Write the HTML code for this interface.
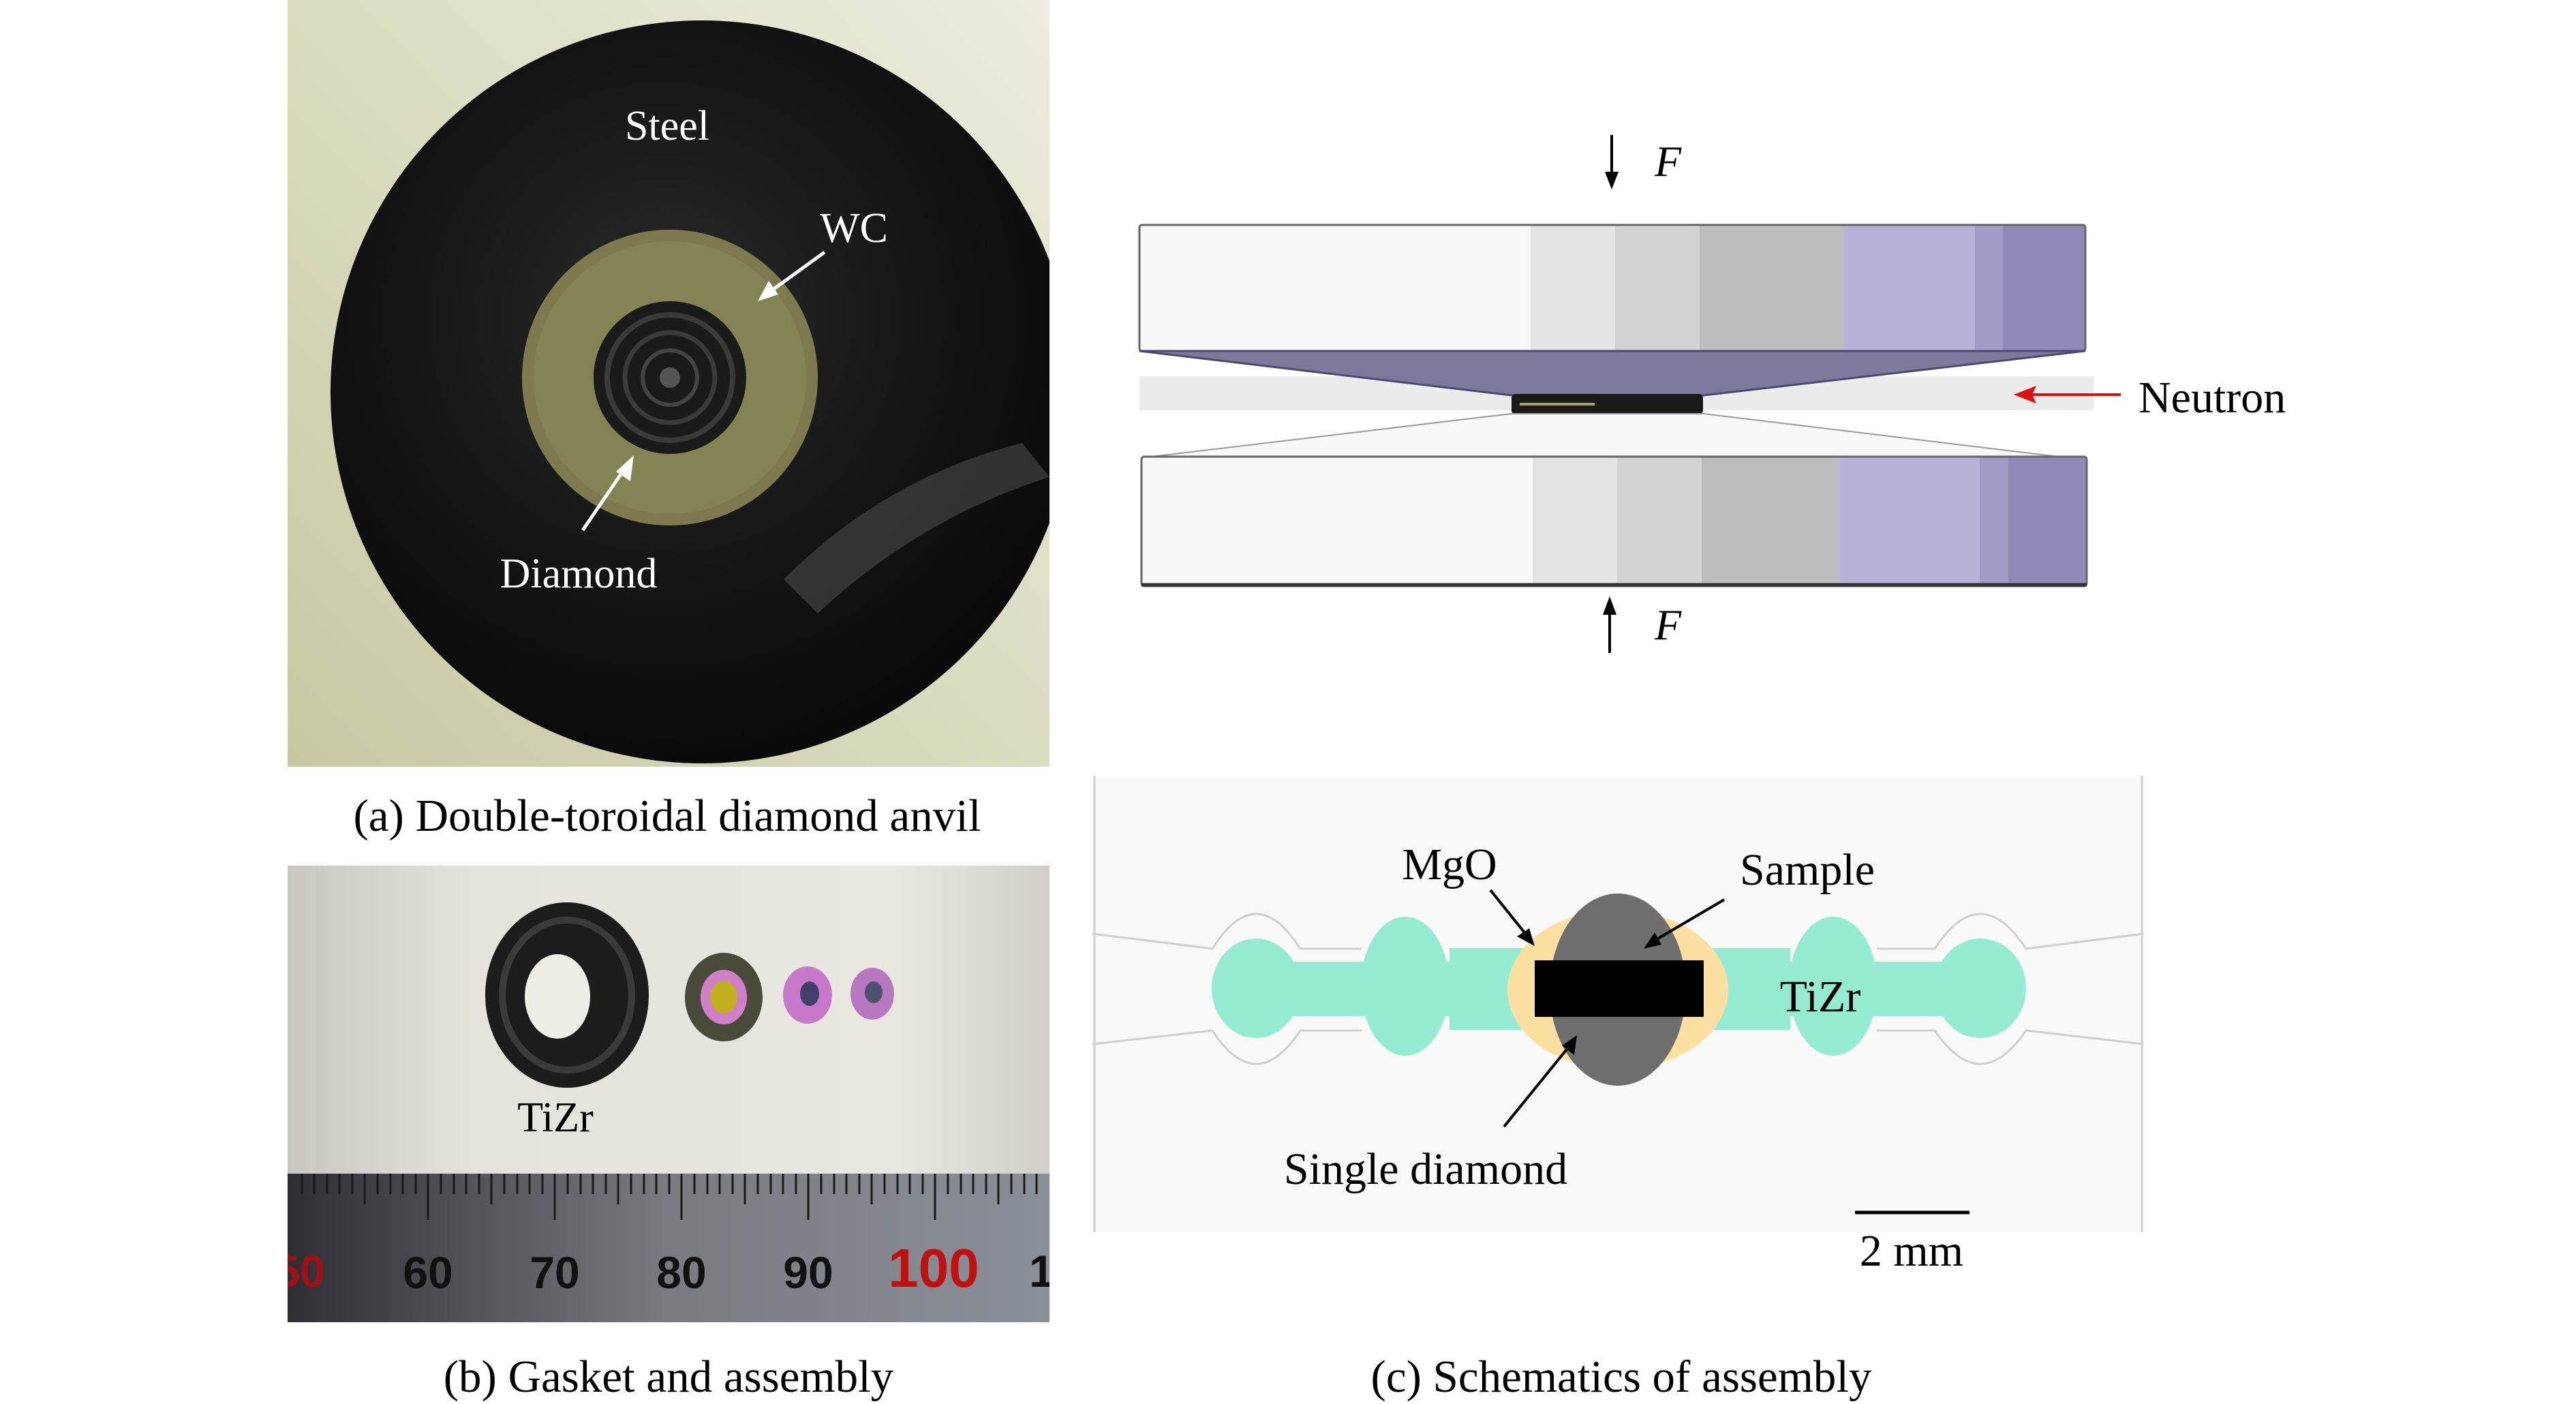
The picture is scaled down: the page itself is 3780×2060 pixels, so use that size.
<!DOCTYPE html>
<html><head><meta charset="utf-8"><style>
html,body{margin:0;padding:0;background:#fff}
svg{display:block}
text{font-family:"Liberation Serif",serif}
</style></head><body>
<svg width="3780" height="2060" viewBox="0 0 3780 2060" xmlns="http://www.w3.org/2000/svg">
<defs>
<linearGradient id="bgA" x1="0" y1="1" x2="1" y2="0">
<stop offset="0" stop-color="#c8c8a4"/><stop offset="0.5" stop-color="#dcdcc0"/><stop offset="1" stop-color="#ecece0"/>
</linearGradient>
<radialGradient id="disk" cx="0.45" cy="0.4" r="0.6">
<stop offset="0" stop-color="#2a2a2a"/><stop offset="0.6" stop-color="#141414"/><stop offset="1" stop-color="#0a0a0a"/>
</radialGradient>
<linearGradient id="bgB" x1="0" y1="0" x2="1" y2="0">
<stop offset="0" stop-color="#c8c8c0"/><stop offset="0.25" stop-color="#e4e4dc"/><stop offset="0.8" stop-color="#e8e8e0"/><stop offset="1" stop-color="#d0d0c8"/>
</linearGradient>
<linearGradient id="ruler" x1="0" y1="0" x2="1" y2="0">
<stop offset="0" stop-color="#2e2e34"/><stop offset="0.5" stop-color="#7a7a80"/><stop offset="1" stop-color="#8a9098"/>
</linearGradient>
<clipPath id="clipA"><rect x="422" y="0" width="1118" height="1125"/></clipPath>
<clipPath id="clipB"><rect x="422" y="1270" width="1118" height="670"/></clipPath>
</defs>

<!-- Panel (a) photo -->
<g clip-path="url(#clipA)">
<rect x="422" y="0" width="1118" height="1125" fill="url(#bgA)"/>
<circle cx="1030" cy="575" r="545" fill="url(#disk)"/>
<path d="M1150 850 Q1300 700 1500 650 L1540 700 Q1350 760 1200 900 Z" fill="#555" opacity="0.5"/>
<circle cx="983" cy="554" r="217" fill="#7c7a4e"/>
<circle cx="983" cy="554" r="200" fill="#8a8858" opacity="0.6"/>
<circle cx="983" cy="554" r="112" fill="#1a1a1a"/>
<circle cx="983" cy="554" r="92" fill="none" stroke="#3a3a38" stroke-width="8"/>
<circle cx="983" cy="554" r="66" fill="none" stroke="#3a3a38" stroke-width="7"/>
<circle cx="983" cy="554" r="40" fill="none" stroke="#444" stroke-width="6"/>
<circle cx="983" cy="554" r="15" fill="#555"/>
</g>
<text x="979" y="205" font-size="62" fill="#fff" text-anchor="middle">Steel</text>
<text x="1253" y="355" font-size="62" fill="#fff" text-anchor="middle">WC</text>
<text x="849" y="862" font-size="62" fill="#fff" text-anchor="middle">Diamond</text>
<g stroke="#fff" stroke-width="5" fill="#fff">
<line x1="1210" y1="370" x2="1130" y2="428"/>
<polygon points="1112,442 1128,412 1142,432" stroke="none"/>
<line x1="855" y1="778" x2="915" y2="690"/>
<polygon points="930,668 925,706 904,692" stroke="none"/>
</g>
<text x="979" y="1219" font-size="67" fill="#000" text-anchor="middle">(a) Double-toroidal diamond anvil</text>

<!-- Panel (b) photo -->
<g clip-path="url(#clipB)">
<rect x="422" y="1270" width="1118" height="670" fill="url(#bgB)"/>
<ellipse cx="832" cy="1460" rx="120" ry="136" fill="#1c1c1c"/>
<ellipse cx="832" cy="1460" rx="95" ry="110" fill="none" stroke="#3a3a3a" stroke-width="10"/>
<ellipse cx="818" cy="1462" rx="48" ry="62" fill="#eeeee6"/>
<ellipse cx="1062" cy="1463" rx="57" ry="65" fill="#4a4a3a"/>
<ellipse cx="1062" cy="1463" rx="34" ry="40" fill="#d080c8"/>
<ellipse cx="1062" cy="1463" rx="20" ry="24" fill="#c0b020"/>
<ellipse cx="1185" cy="1460" rx="36" ry="42" fill="#c878c8"/>
<ellipse cx="1188" cy="1458" rx="14" ry="18" fill="#40406a"/>
<ellipse cx="1280" cy="1458" rx="32" ry="38" fill="#b878c0"/>
<ellipse cx="1282" cy="1456" rx="13" ry="16" fill="#505070"/>
<rect x="422" y="1722" width="1118" height="218" fill="url(#ruler)"/>
<g font-size="66" text-anchor="middle" font-weight="bold">
<text x="440" y="1888" fill="#a01010" style="font-family:'Liberation Sans',sans-serif">50</text>
<text x="628" y="1890" fill="#111" style="font-family:'Liberation Sans',sans-serif">60</text>
<text x="814" y="1890" fill="#111" style="font-family:'Liberation Sans',sans-serif">70</text>
<text x="1000" y="1890" fill="#111" style="font-family:'Liberation Sans',sans-serif">80</text>
<text x="1186" y="1890" fill="#111" style="font-family:'Liberation Sans',sans-serif">90</text>
<text x="1370" y="1888" fill="#c01010" font-size="80" style="font-family:'Liberation Sans',sans-serif">100</text>
<text x="1545" y="1888" fill="#111" style="font-family:'Liberation Sans',sans-serif">11</text>
</g>
<g stroke="#1a1a1a" stroke-width="3">
<path d="M443 1722v30M461 1722v30M480 1722v30M498 1722v30M517 1722v30M535 1722v45M554 1722v30M573 1722v30M591 1722v30M610 1722v30M628 1722v68M647 1722v30M666 1722v30M684 1722v30M703 1722v30M721 1722v45M740 1722v30M759 1722v30M777 1722v30M796 1722v30M814 1722v68M833 1722v30M852 1722v30M870 1722v30M889 1722v30M907 1722v45M926 1722v30M945 1722v30M963 1722v30M982 1722v30M1000 1722v68M1019 1722v30M1038 1722v30M1056 1722v30M1075 1722v30M1093 1722v45M1112 1722v30M1131 1722v30M1149 1722v30M1168 1722v30M1186 1722v68M1205 1722v30M1224 1722v30M1242 1722v30M1261 1722v30M1279 1722v45M1298 1722v30M1317 1722v30M1335 1722v30M1354 1722v30M1372 1722v68M1391 1722v30M1410 1722v30M1428 1722v30M1447 1722v30M1465 1722v45M1484 1722v30M1503 1722v30M1521 1722v30"/>
</g>
</g>
<text x="815" y="1660" font-size="62" fill="#000" text-anchor="middle">TiZr</text>
<text x="981" y="2042" font-size="67" fill="#000" text-anchor="middle">(b) Gasket and assembly</text>

<!-- Top right: anvil side view -->
<rect x="1672" y="552" width="1400" height="50" fill="#ececec"/>
<rect x="1672" y="330" width="1388" height="185" fill="#f8f8f8"/>
<rect x="2246" y="330" width="124" height="185" fill="#e4e4e4"/>
<rect x="2370" y="330" width="124" height="185" fill="#d2d2d2"/>
<rect x="2494" y="330" width="211" height="185" fill="#bdbdbd"/>
<rect x="2705" y="330" width="193" height="185" fill="#b8b2d8"/>
<rect x="2898" y="330" width="41" height="185" fill="#a29cc6"/>
<rect x="2939" y="330" width="121" height="185" fill="#918ab8"/>
<rect x="1672" y="330" width="1388" height="185" fill="none" stroke="#666" stroke-width="3" rx="4"/>
<polygon points="1672,515 3060,515 2500,580 2218,580" fill="#7c7a9a" stroke="#4a4870" stroke-width="3"/>
<rect x="2218" y="578" width="281" height="30" fill="#1a1a18" rx="6"/>
<line x1="2230" y1="593" x2="2340" y2="593" stroke="#a0a060" stroke-width="4"/>
<polygon points="2218,607 2500,607 3020,670 1690,670" fill="#f8f8f8" stroke="#999" stroke-width="2"/>
<rect x="1675" y="670" width="1387" height="190" fill="#f8f8f8"/>
<rect x="2249" y="670" width="124" height="190" fill="#e4e4e4"/>
<rect x="2373" y="670" width="124" height="190" fill="#d2d2d2"/>
<rect x="2497" y="670" width="208" height="190" fill="#bdbdbd"/>
<rect x="2700" y="670" width="205" height="190" fill="#b8b2d8"/>
<rect x="2905" y="670" width="42" height="190" fill="#a29cc6"/>
<rect x="2947" y="670" width="115" height="190" fill="#918ab8"/>
<rect x="1675" y="670" width="1387" height="190" fill="none" stroke="#666" stroke-width="3" rx="4"/>
<line x1="1675" y1="858" x2="3062" y2="858" stroke="#333" stroke-width="5"/>
<line x1="2365" y1="198" x2="2365" y2="262" stroke="#000" stroke-width="4"/>
<polygon points="2355,252 2375,252 2365,278" fill="#000"/>
<text x="2428" y="258" font-size="64" font-style="italic" fill="#000">F</text>
<line x1="2362" y1="890" x2="2362" y2="958" stroke="#000" stroke-width="4"/>
<polygon points="2352,902 2372,902 2362,875" fill="#000"/>
<text x="2428" y="938" font-size="64" font-style="italic" fill="#000">F</text>
<line x1="2975" y1="579" x2="3112" y2="579" stroke="#e01010" stroke-width="4"/>
<polygon points="2955,579 2988,566 2982,579 2988,592" fill="#e01010"/>
<text x="3138" y="605" font-size="66" fill="#000">Neutron</text>

<!-- Panel (c) schematic -->
<rect x="1603" y="1138" width="1543" height="670" fill="#f9f9f9"/>
<g fill="none" stroke="#cfcfcf" stroke-width="3">
<line x1="1606" y1="1138" x2="1606" y2="1808"/>
<line x1="3143" y1="1138" x2="3143" y2="1808"/>
<path d="M1603 1370 L1779 1392 Q1843 1290 1908 1392 L1998 1392"/>
<path d="M1603 1532 L1779 1512 Q1843 1610 1908 1512 L1998 1512"/>
<path d="M3146 1370 L2973 1392 Q2906 1290 2839 1392 L2754 1392"/>
<path d="M3146 1532 L2973 1512 Q2906 1610 2839 1512 L2754 1512"/>
</g>
<g fill="#95ecd2">
<rect x="1840" y="1411" width="1040" height="80"/>
<rect x="2127" y="1391" width="500" height="120"/>
<ellipse cx="1843" cy="1450" rx="65" ry="73"/>
<ellipse cx="2062" cy="1447" rx="65" ry="102"/>
<ellipse cx="2690" cy="1447" rx="65" ry="102"/>
<ellipse cx="2906" cy="1450" rx="67" ry="73"/>
</g>
<ellipse cx="2374" cy="1452" rx="162" ry="117" fill="#fbe0a2"/>
<ellipse cx="2374" cy="1452" rx="100" ry="141" fill="#6e6e6e"/>
<rect x="2282" y="1400" width="184" height="100" fill="#6e6e6e"/>
<rect x="2252" y="1409" width="248" height="83" fill="#000"/>
<g stroke="#000" stroke-width="4" fill="#000">
<line x1="2187" y1="1306" x2="2240" y2="1372"/>
<polygon points="2252,1388 2226,1374 2244,1362" stroke="none"/>
<line x1="2530" y1="1320" x2="2428" y2="1380"/>
<polygon points="2412,1392 2428,1368 2438,1386" stroke="none"/>
<line x1="2207" y1="1653" x2="2302" y2="1536"/>
<polygon points="2314,1519 2310,1548 2292,1534" stroke="none"/>
</g>
<text x="2127" y="1290" font-size="66" fill="#000" text-anchor="middle">MgO</text>
<text x="2652" y="1298" font-size="66" fill="#000" text-anchor="middle">Sample</text>
<text x="2671" y="1484" font-size="66" fill="#000" text-anchor="middle">TiZr</text>
<text x="2092" y="1737" font-size="66" fill="#000" text-anchor="middle">Single diamond</text>
<line x1="2722" y1="1779" x2="2890" y2="1779" stroke="#000" stroke-width="5"/>
<text x="2805" y="1857" font-size="66" fill="#000" text-anchor="middle">2 mm</text>
<text x="2379" y="2042" font-size="67" fill="#000" text-anchor="middle">(c) Schematics of assembly</text>
</svg>
</body></html>
